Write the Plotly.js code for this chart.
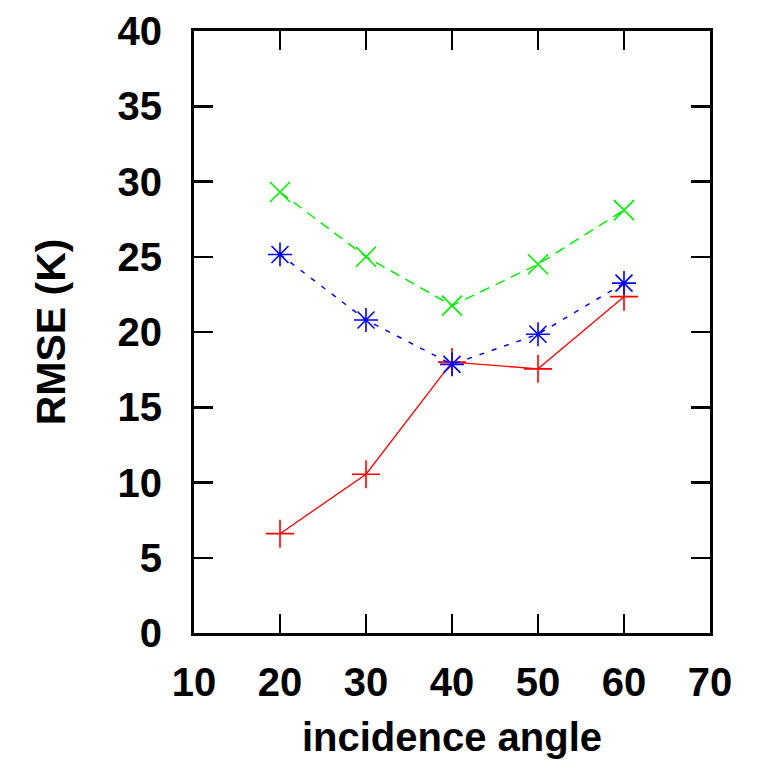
<!DOCTYPE html>
<html>
<head>
<meta charset="utf-8">
<script src="https://cdn.plot.ly/plotly-3.0.1.min.js"></script>
<style>html,body{margin:0;padding:0;background:#fff;}#chart{width:760px;height:771px;}</style>
</head>
<body>
<div id="chart"></div>
<script>
const angles = [20, 30, 40, 50, 60];
const redSeries = [6.6, 10.55, 18.0, 17.55, 22.35];
const greenSeries = [29.3, 25.0, 21.75, 24.5, 28.1];
const blueSeries = [25.15, 20.8, 17.85, 19.85, 23.25];
const xTicks = [10, 20, 30, 40, 50, 60, 70];
const yTicks = [0, 5, 10, 15, 20, 25, 30, 35, 40];

const fontFam = '"Liberation Sans", Arial, sans-serif';

const traces = [
  {x: angles, y: redSeries, mode: 'lines+markers', type: 'scatter',
   line: {color: '#ff0000', width: 1.3},
   marker: {symbol: 'cross-thin-open', size: 20, color: '#ff0000', line: {color: '#ff0000', width: 1.6}}},
  {x: angles, y: greenSeries, mode: 'lines+markers', type: 'scatter',
   line: {color: '#00ee00', width: 1.5, dash: '10px,7px'},
   marker: {symbol: 'x-thin-open', size: 20, color: '#00ee00', line: {color: '#00ee00', width: 1.6}}},
  {x: angles, y: blueSeries, mode: 'lines+markers', type: 'scatter',
   line: {color: '#0000ff', width: 1.5, dash: '5px,8px'},
   marker: {symbol: 'asterisk-open', size: 20, color: '#0000ff', line: {color: '#0000ff', width: 1.6}}}
];

const axisCommon = {
  showgrid: false, zeroline: false, showline: true, linecolor: '#000', linewidth: 3,
  mirror: 'ticks', ticks: 'inside', ticklen: 19, tickwidth: 2.5, tickcolor: '#000',
  tickfont: {family: fontFam, size: 40, color: '#000', weight: 'bold'}
};

const layout = {
  width: 760, height: 771,
  margin: {l: 194, r: 50, t: 31, b: 138},
  paper_bgcolor: '#fff', plot_bgcolor: '#fff',
  showlegend: false,
  xaxis: Object.assign({}, axisCommon, {
    range: [10, 70], tickmode: 'array', tickvals: xTicks, ticktext: xTicks.map(String),
    ticklabelstandoff: 12,
    title: {text: 'incidence angle', font: {family: fontFam, size: 40, color: '#000', weight: 'bold'}, standoff: 20}
  }),
  yaxis: Object.assign({}, axisCommon, {
    range: [0, 40], tickmode: 'array', tickvals: yTicks, ticktext: yTicks.map(String),
    ticklabelstandoff: 21,
    title: {text: 'RMSE (K)', font: {family: fontFam, size: 41, color: '#000', weight: 'bold'}, standoff: 40}
  })
};

Plotly.newPlot('chart', traces, layout, {staticPlot: true, displayModeBar: false});
</script>
</body>
</html>
